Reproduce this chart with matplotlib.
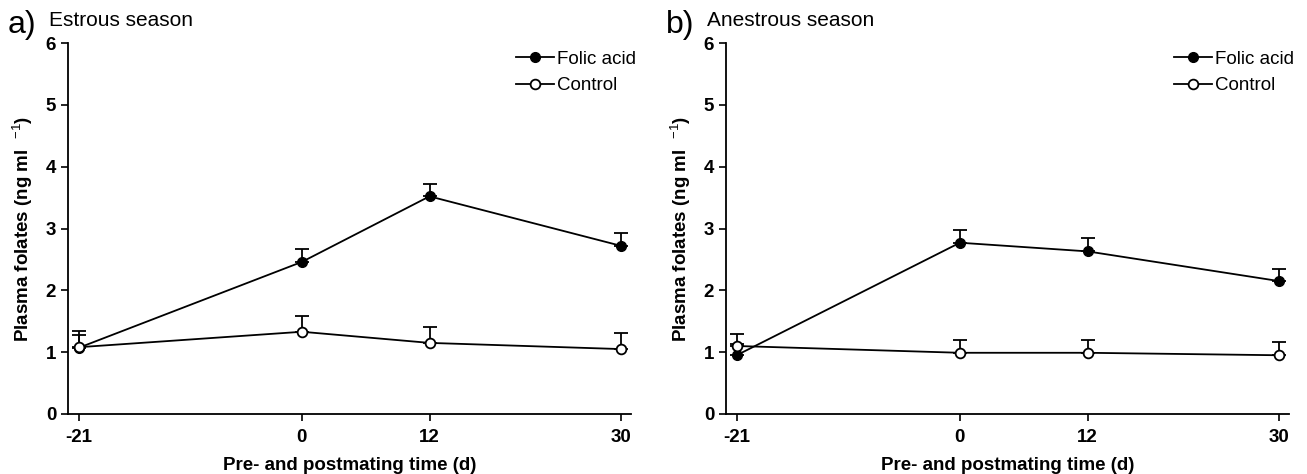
import numpy as np
import matplotlib
matplotlib.use("Agg")
import matplotlib.pyplot as plt

plt.rcParams['font.family'] = ['Liberation Sans Narrow', 'Liberation Sans', 'DejaVu Sans']
plt.rcParams['mathtext.fontset'] = 'custom'
plt.rcParams['mathtext.rm'] = 'Liberation Sans'
plt.rcParams['mathtext.bf'] = 'Liberation Sans:bold'
plt.rcParams['axes.unicode_minus'] = False

days = [-21, 0, 12, 30]

# a) estrous season
folic_a = [1.07, 2.46, 3.52, 2.72]
folic_a_err = [0.20, 0.21, 0.20, 0.21]
control_a = [1.08, 1.33, 1.15, 1.05]
control_a_err = [0.26, 0.26, 0.26, 0.26]

# b) anestrous season
folic_b = [0.95, 2.77, 2.63, 2.15]
folic_b_err = [0.19, 0.21, 0.21, 0.19]
control_b = [1.10, 0.99, 0.99, 0.95]
control_b_err = [0.20, 0.21, 0.21, 0.21]

panels = [
    ("a)", "Estrous season", folic_a, folic_a_err, control_a, control_a_err),
    ("b)", "Anestrous season", folic_b, folic_b_err, control_b, control_b_err),
]

fig = plt.figure(figsize=(13.07, 4.74), dpi=100)
lefts = [68 / 1307, 726 / 1307]
width = 563 / 1307
bottom = 1 - 414 / 474
height = (414 - 43) / 474

for (tag, title, fa, fe, ca, ce), left in zip(panels, lefts):
    ax = fig.add_axes([left, bottom, width, height])
    ax.errorbar(days, fa, yerr=[np.zeros(4), fe], color='black', lw=1.3,
                marker='o', ms=7, mfc='black', mec='black',
                capsize=5, capthick=1.3, elinewidth=1.3, label='Folic acid', zorder=3)
    ax.errorbar(days, ca, yerr=[np.zeros(4), ce], color='black', lw=1.3,
                marker='o', ms=7, mfc='white', mec='black', mew=1.3,
                capsize=5, capthick=1.3, elinewidth=1.3, label='Control', zorder=4)
    ax.set_xlim(-22.0, 30.95)
    ax.set_ylim(0, 6)
    ax.set_xticks(days)
    ax.set_yticks(range(7))
    ax.spines['top'].set_visible(False)
    ax.spines['right'].set_visible(False)
    ax.spines['left'].set_linewidth(1.3)
    ax.spines['bottom'].set_linewidth(1.3)
    ax.tick_params(direction='out', length=5, width=1.2, labelsize=13.5)
    ax.tick_params(axis='x', pad=6)
    for lab in ax.get_xticklabels() + ax.get_yticklabels():
        lab.set_fontweight('bold')
    ax.set_xlabel('Pre- and postmating time (d)', fontsize=13.5, fontweight='bold', labelpad=8)
    ax.set_ylabel(r'Plasma folates (ng ml  $^{-1}$)', fontsize=13.5, fontweight='bold', labelpad=8)
    handles, labels = ax.get_legend_handles_labels()
    handles = [h[0] for h in handles]
    ax.legend(handles, labels, loc='upper right', bbox_to_anchor=(1.025, 1.005), frameon=False,
              fontsize=13.5, handlelength=2.0, handletextpad=0.15, labelspacing=0.5,
              borderaxespad=0.1)
    x0 = left * 1307
    fig.text((x0 - 60) / 1307, 1 - 33 / 474, tag, fontsize=23, ha='left', va='baseline')
    fig.text((x0 - 19) / 1307, 1 - 26 / 474, title, fontsize=15, ha='left', va='baseline')

fig.savefig('out.png', dpi=100)
